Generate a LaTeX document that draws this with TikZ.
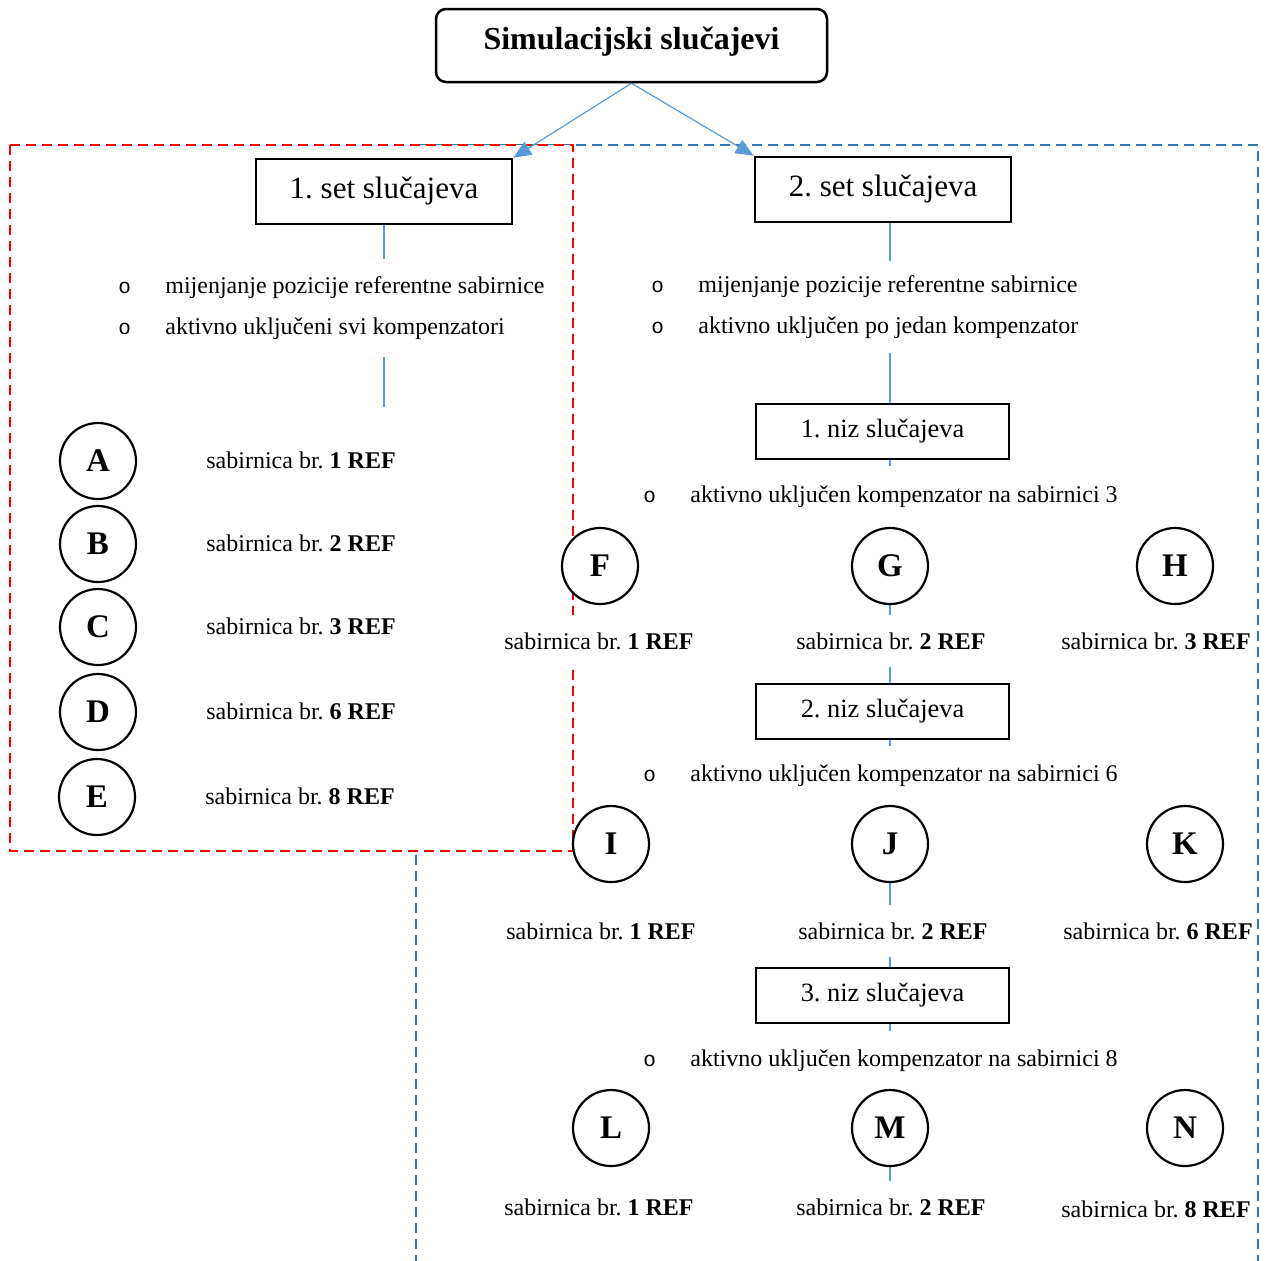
\documentclass[tikz,border=0pt]{standalone}
\usepackage{fontspec}
\setmainfont{Liberation Serif}
\setmonofont{Liberation Mono}
\usetikzlibrary{arrows.meta}
\pgfdeclarelayer{back}
\pgfdeclarelayer{mid}
\pgfsetlayers{back,mid,main}
\definecolor{conblue}{RGB}{91,155,213}
\definecolor{dashblue}{RGB}{46,117,182}
\definecolor{dashred}{RGB}{255,0,0}
\newcommand{\bul}{\makebox[23.5pt][l]{\fontsize{10.5}{12}\ttfamily o}}
\frenchspacing
\begin{document}
\begin{tikzpicture}[x=0.5pt,y=-0.5pt,
  titlebox/.style={draw, line width=1.25pt, rounded corners=5pt, minimum width=195.5pt, minimum height=36.5pt},
  setbox/.style={draw, line width=1.25pt, fill=white, minimum width=128pt, minimum height=32.5pt, font=\fontsize{15.5}{18}\selectfont},
  nizbox/.style={draw, line width=0.6pt, fill=white, minimum width=126.5pt, minimum height=27.5pt, font=\fontsize{13.2}{16}\selectfont},
  circ/.style={circle, draw, line width=1.1pt, fill=white, minimum size=38pt, inner sep=0pt, font=\fontsize{16.5}{19}\bfseries\selectfont},
  lab/.style={fill=white, inner xsep=1pt, inner ysep=0pt, minimum height=26pt, font=\fontsize{12}{14}\selectfont},
  list/.style={fill=white, inner sep=0pt, align=left, font=\fontsize{12}{20.5}\selectfont},
  conn/.style={conblue, line width=0.6pt},
  arr/.style={conblue, line width=0.6pt, -{Triangle[length=9pt,width=7.5pt]}},
  reddash/.style={dashred, line width=1.2pt, dash pattern=on 5pt off 3pt},
  bluedash/.style={dashblue, line width=1.2pt, dash pattern=on 5pt off 3pt}]
\useasboundingbox (0,0) rectangle (1267,1260);

% title
\node[titlebox] (title) at (631.5,45.5) {};
\node[font=\fontsize{16}{19}\bfseries\selectfont] (titletext) at (631.5,42) {Simulacijski slučajevi};

% set boxes
\node[setbox] (set1) at (384,191.5) {1. set slučajeva};
\node[setbox] (set2) at (883,189.5) {2. set slučajeva};

% left column
\node[list, minimum height=49pt, anchor=west] (list1) at (118,308) {\bul mijenjanje pozicije referentne sabirnice\\\bul aktivno uključeni svi kompenzatori};
\coordinate (l1end) at (384,407);

\node[circ] (A) at (98,461) {A};
\node[circ] (B) at (98,544) {B};
\node[circ] (C) at (98,627) {C};
\node[circ] (D) at (98,712) {D};
\node[circ] (E) at (97,797) {E};
\node[lab, anchor=west] (labA) at (204,460) {sabirnica br. \textbf{1 REF}};
\node[lab, anchor=west] (labB) at (204,543) {sabirnica br. \textbf{2 REF}};
\node[lab, anchor=west] (labC) at (204,626) {sabirnica br. \textbf{3 REF}};
\node[lab, anchor=west] (labD) at (204,711) {sabirnica br. \textbf{6 REF}};
\node[lab, anchor=west] (labE) at (203,796) {sabirnica br. \textbf{8 REF}};

% right column
\node[list, minimum height=46pt, anchor=west] (list2) at (651,307) {\bul mijenjanje pozicije referentne sabirnice\\\bul aktivno uključen po jedan kompenzator};

\node[nizbox] (niz1) at (882.5,431.5) {1. niz slučajeva};
\node[list, minimum height=31pt, anchor=west] (b1) at (643,497) {\bul aktivno uključen kompenzator na sabirnici 3};
\node[circ] (F) at (600,566) {F};
\node[circ] (G) at (890,566) {G};
\node[circ] (H) at (1175,566) {H};
\node[lab] (labF) at (599,641) {sabirnica br. \textbf{1 REF}};
\node[lab] (labG) at (891,641) {sabirnica br. \textbf{2 REF}};
\node[lab] (labH) at (1156,641) {sabirnica br. \textbf{3 REF}};

\node[nizbox] (niz2) at (882.5,711.5) {2. niz slučajeva};
\node[list, minimum height=30pt, anchor=west] (b2) at (643,776) {\bul aktivno uključen kompenzator na sabirnici 6};
\node[circ] (I) at (611,844) {I};
\node[circ] (J) at (890,844) {J};
\node[circ] (K) at (1185,844) {K};
\node[lab] (labI) at (601,931) {sabirnica br. \textbf{1 REF}};
\node[lab] (labJ) at (893,931) {sabirnica br. \textbf{2 REF}};
\node[lab] (labK) at (1158,931) {sabirnica br. \textbf{6 REF}};

\node[nizbox] (niz3) at (882.5,995.5) {3. niz slučajeva};
\node[list, minimum height=30pt, anchor=west] (b3) at (643,1061) {\bul aktivno uključen kompenzator na sabirnici 8};
\node[circ] (L) at (611,1128) {L};
\node[circ] (M) at (890,1128) {M};
\node[circ] (N) at (1185,1128) {N};
\node[lab] (labL) at (599,1207) {sabirnica br. \textbf{1 REF}};
\node[lab] (labM) at (891,1207) {sabirnica br. \textbf{2 REF}};
\node[lab] (labN) at (1156,1209) {sabirnica br. \textbf{8 REF}};

% dashed groups
\begin{pgfonlayer}{back}
\draw[bluedash] (416,1265) -- (416,145) -- (1258,145) -- (1258,1265);
\draw[reddash, fill=white] (10,145) rectangle (573,851);
\end{pgfonlayer}

% connectors
\begin{pgfonlayer}{mid}
\draw[arr] (title.south) -- (set1.north east);
\draw[arr] (title.south) -- (set2.north west);
\draw[conn] (set1.south) -- (l1end);
\draw[conn] (G |- set2.south) -- (G |- labM.north);
\end{pgfonlayer}
\end{tikzpicture}
\end{document}
